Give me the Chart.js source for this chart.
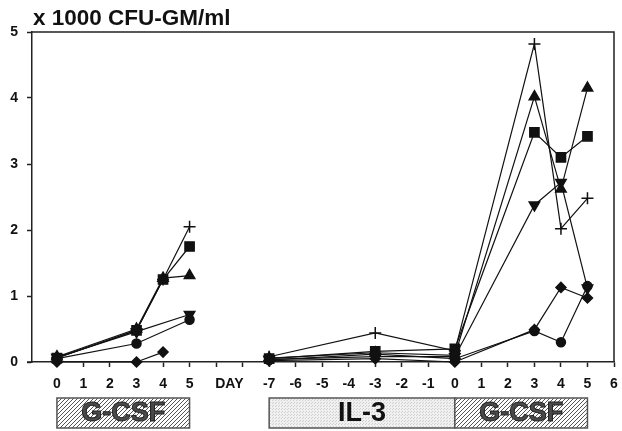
<!DOCTYPE html>
<html>
<head>
<meta charset="utf-8">
<script src="https://cdn.jsdelivr.net/npm/chart.js@4/dist/chart.umd.min.js"></script>
<style>
  body { margin: 0; background: #fff; }
  #wrap { width: 622px; height: 431px; position: relative; }
</style>
</head>
<body>
<div id="wrap"><canvas id="chart"></canvas></div>
<script>
// x axis: left block is days 0..5 of G-CSF, right block is IL-3 days -7..0 then G-CSF days 1..6
const xTickLabels = ['0', '1', '2', '3', '4', '5', '', '', '-7', '-6', '-5', '-4', '-3', '-2', '-1', '0', '1', '2', '3', '4', '5', '6'];
const dayLabel = 'DAY';
const rightStart = 15; // axis index of day 0 in the right block

// left block (G-CSF alone)
const leftDays = [0, 3, 4, 5];
const leftPlus = [0.06, 0.48, 1.25, 2.05];
const leftSquare = [0.06, 0.48, 1.25, 1.75];
const leftTriUp = [0.08, 0.5, 1.27, 1.31];
const leftTriDown = [0.07, 0.46, null, 0.72];
const leftCircle = [0.05, 0.28, null, 0.64];
const leftDiamond = [0.0, 0.0, 0.15, null];

// right block (IL-3 then G-CSF)
const rightDays = [-7, -3, 0, 3, 4, 5];
const rightPlus = [0.08, 0.44, 0.17, 4.82, 2.02, 2.48];
const rightTriUp = [0.06, 0.14, 0.1, 4.02, 2.62, 4.15];
const rightSquare = [0.05, 0.16, 0.2, 3.48, 3.1, 3.42];
const rightTriDown = [0.04, 0.08, 0.08, 2.38, 2.72, 1.12];
const rightCircle = [0.03, 0.12, 0.05, 0.47, 0.3, 1.15];
const rightDiamond = [0.02, 0.05, 0.0, 0.49, 1.13, 0.97];

// treatment bars under the axis: [from, to, label, kind]
const bars = [
  [0, 5, 'G-CSF', 'hatch'],
  [8, 15, 'IL-3', 'dots'],
  [15, 20, 'G-CSF', 'hatch']
];

const markers = {
  plus: { pointStyle: 'cross', pointRadius: 6, pointRotation: 0 },
  square: { pointStyle: 'rect', pointRadius: 6.5, pointRotation: 0 },
  triUp: { pointStyle: 'triangle', pointRadius: 6, pointRotation: 0 },
  triDown: { pointStyle: 'triangle', pointRadius: 6, pointRotation: 180 },
  circle: { pointStyle: 'circle', pointRadius: 4.5, pointRotation: 0 },
  diamond: { pointStyle: 'rectRot', pointRadius: 5, pointRotation: 0 }
};

function series(days, values, offset, marker) {
  return {
    data: days.map((d, i) => ({ x: d + offset, y: values[i] })),
    showLine: true,
    spanGaps: true,
    borderColor: '#111',
    borderWidth: 1.2,
    pointBackgroundColor: '#111',
    pointBorderColor: '#111',
    pointBorderWidth: 1.5,
    clip: false,
    ...markers[marker]
  };
}

const datasets = [
  series(leftDays, leftPlus, 0, 'plus'),
  series(leftDays, leftSquare, 0, 'square'),
  series(leftDays, leftTriUp, 0, 'triUp'),
  series(leftDays, leftTriDown, 0, 'triDown'),
  series(leftDays, leftCircle, 0, 'circle'),
  series(leftDays, leftDiamond, 0, 'diamond'),
  series(rightDays, rightPlus, rightStart, 'plus'),
  series(rightDays, rightTriUp, rightStart, 'triUp'),
  series(rightDays, rightSquare, rightStart, 'square'),
  series(rightDays, rightTriDown, rightStart, 'triDown'),
  series(rightDays, rightCircle, rightStart, 'circle'),
  series(rightDays, rightDiamond, rightStart, 'diamond')
];

function makePattern(ctx, kind) {
  const c = document.createElement('canvas');
  const g = c.getContext('2d');
  if (kind === 'hatch') {
    c.width = 4; c.height = 4;
    g.fillStyle = '#fff';
    g.fillRect(0, 0, 4, 4);
    g.strokeStyle = '#555';
    g.lineWidth = 1;
    g.beginPath();
    g.moveTo(0, 4); g.lineTo(4, 0);
    g.moveTo(-1, 1); g.lineTo(1, -1);
    g.moveTo(3, 5); g.lineTo(5, 3);
    g.stroke();
  } else {
    c.width = 3; c.height = 3;
    g.fillStyle = '#f0f0f0';
    g.fillRect(0, 0, 3, 3);
    g.fillStyle = '#cfcfcf';
    g.fillRect(0, 0, 1, 1);
    g.fillRect(2, 1, 1, 1);
  }
  return ctx.createPattern(c, 'repeat');
}

const decorations = {
  id: 'decorations',
  afterDraw(chart) {
    const ctx = chart.ctx;
    const a = chart.chartArea;
    const x = chart.scales.x;
    ctx.save();
    // frame top and right
    ctx.strokeStyle = '#222';
    ctx.lineWidth = 1.5;
    ctx.beginPath();
    ctx.moveTo(a.left, a.top);
    ctx.lineTo(a.right, a.top);
    ctx.lineTo(a.right, a.bottom);
    ctx.stroke();
    // x axis runs a little past the y axis
    ctx.beginPath();
    ctx.moveTo(a.left - 5, a.bottom);
    ctx.lineTo(a.left, a.bottom);
    ctx.stroke();
    // unit title
    ctx.fillStyle = '#111';
    ctx.font = 'bold 22.5px "Liberation Sans", Arial, sans-serif';
    ctx.textAlign = 'left';
    ctx.textBaseline = 'alphabetic';
    ctx.fillText('x 1000 CFU-GM/ml', 33, 25);
    // treatment bars
    const top = 398, bottom = 428;
    bars.forEach(([from, to, label, kind]) => {
      const x0 = x.getPixelForValue(from);
      const x1 = x.getPixelForValue(to);
      ctx.fillStyle = makePattern(ctx, kind);
      ctx.fillRect(x0, top, x1 - x0, bottom - top);
      ctx.strokeStyle = '#555';
      ctx.lineWidth = 1.5;
      ctx.strokeRect(x0, top, x1 - x0, bottom - top);
      ctx.font = 'bold 27px "Liberation Sans", Arial, sans-serif';
      ctx.textAlign = 'center';
      ctx.textBaseline = 'middle';
      const cx = (x0 + x1) / 2, cy = (top + bottom) / 2 + 1;
      if (kind === 'hatch') {
        ctx.fillStyle = '#4a4a4a';
        ctx.fillText(label, cx, cy);
        ctx.strokeStyle = '#222';
        ctx.lineWidth = 1;
        ctx.strokeText(label, cx, cy);
      } else {
        ctx.fillStyle = '#111';
        ctx.fillText(label, cx, cy);
      }
    });
    ctx.restore();
  }
};

const tickFont = { family: '"Liberation Sans", Arial, sans-serif', size: 14, weight: 'bold' };

new Chart(document.getElementById('chart'), {
  type: 'scatter',
  data: { datasets: datasets },
  options: {
    responsive: true,
    maintainAspectRatio: false,
    animation: false,
    layout: { padding: { top: 32, right: 5, left: 0, bottom: 0 } },
    plugins: { legend: { display: false }, tooltip: { enabled: false } },
    scales: {
      x: {
        type: 'linear',
        min: -0.94,
        max: 21,
        afterBuildTicks: (scale) => {
          const ticks = xTickLabels.map((_, i) => ({ value: i }));
          ticks.splice(7, 0, { value: 6.5 });
          scale.ticks = ticks;
        },
        afterFit: (scale) => {
          scale.height = 69;
          scale.paddingLeft = 0;
          scale.paddingRight = 0;
        },
        ticks: {
          autoSkip: false,
          maxRotation: 0,
          padding: 9,
          color: '#111',
          font: tickFont,
          callback: (value) => value === 6.5 ? dayLabel : xTickLabels[value]
        },
        grid: {
          drawOnChartArea: false,
          tickLength: 5,
          tickWidth: 1.5,
          tickColor: (ctx) => (ctx.tick && ctx.tick.value === 6.5) ? 'rgba(0,0,0,0)' : '#222'
        },
        border: { color: '#222', width: 1.5 }
      },
      y: {
        min: 0,
        max: 5,
        afterFit: (scale) => {
          scale.width = 32;
          scale.paddingTop = 0;
          scale.paddingBottom = 0;
        },
        ticks: { stepSize: 1, padding: 9, color: '#111', font: tickFont },
        grid: { drawOnChartArea: false, tickLength: 5, tickWidth: 1.5, tickColor: '#222' },
        border: { color: '#222', width: 1.5 }
      }
    }
  },
  plugins: [decorations]
});
</script>
</body>
</html>
